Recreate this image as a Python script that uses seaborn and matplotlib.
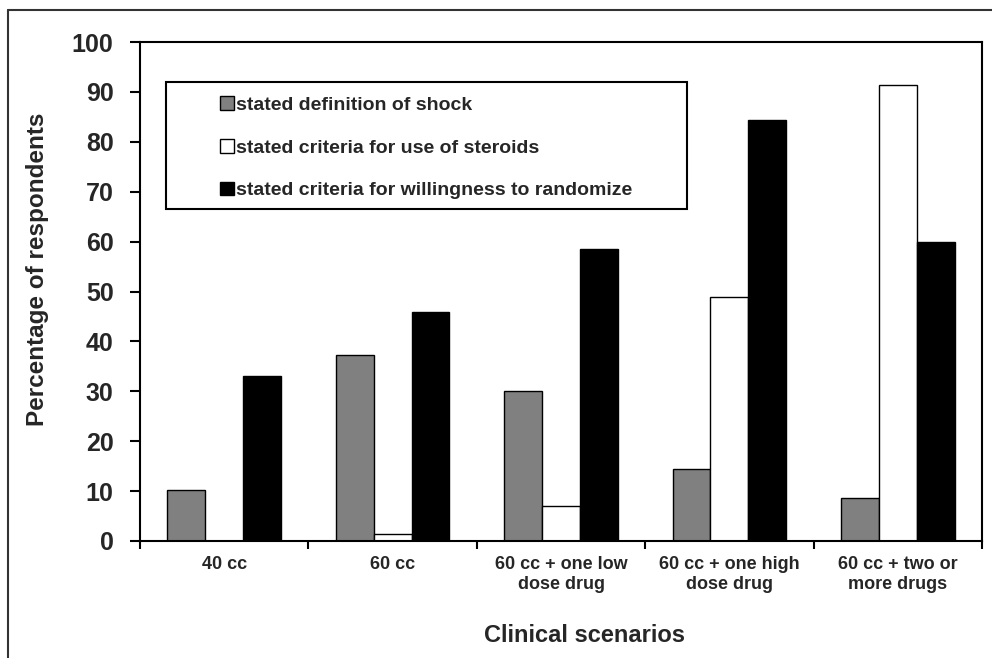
import numpy as np
import pandas as pd
import seaborn as sns
import matplotlib.pyplot as plt
from matplotlib.patches import Patch, Rectangle
from matplotlib.lines import Line2D

# =========================
# DATA
# =========================
scenarios = ["40 cc", "60 cc", "60 cc + one low\ndose drug",
             "60 cc + one high\ndose drug", "60 cc + two or\nmore drugs"]
series_names = ["stated definition of shock",
                "stated criteria for use of steroids",
                "stated criteria for willingness to randomize"]
shock = [10.2, 37.2, 30.1, 14.4, 8.7]
steroids = [0.0, 1.5, 7.1, 48.8, 91.4]
randomize = [33.0, 45.8, 58.6, 84.4, 60.0]
y_ticks = list(range(0, 101, 10))

colors = ["#808080", "#ffffff", "#000000"]

df = pd.DataFrame({
    "scenario": scenarios * 3,
    "series": [series_names[0]] * 5 + [series_names[1]] * 5 + [series_names[2]] * 5,
    "value": shock + steroids + randomize,
})

# =========================
# STYLE
# =========================
sns.set_theme(style="white")
plt.rcParams['font.family'] = ['Liberation Sans', 'DejaVu Sans']
plt.rcParams['font.weight'] = 'bold'

W, H = 992, 658
fig = plt.figure(figsize=(W / 100, H / 100), dpi=100)
ax = fig.add_axes([140 / W, 1 - 541 / H, (982 - 140) / W, (541 - 42) / H])

sns.barplot(data=df, x="scenario", y="value", hue="series", order=scenarios,
            hue_order=series_names, palette=colors, width=0.675, gap=0,
            edgecolor="black", linewidth=1.0, saturation=1, legend=False, ax=ax)

# =========================
# AXES
# =========================
ax.set_ylim(0, 100)
ax.set_xlim(-0.5, len(scenarios) - 0.5)
ax.set_yticks(y_ticks)
ax.set_yticklabels([str(t) for t in y_ticks], fontsize=18, fontweight='bold')
ax.set_xticks(range(len(scenarios)))
ax.set_xticklabels(scenarios, fontsize=13, fontweight='bold')
ax.set_xticks(np.arange(-0.5, len(scenarios), 1.0), minor=True)
ax.tick_params(axis='x', which='major', length=0, pad=11)
ax.tick_params(axis='x', which='minor', length=6, width=1.5, color='black',
               direction='out', bottom=True)
ax.tick_params(axis='y', which='major', length=7, width=1.5, color='black',
               direction='out', left=True, pad=12)
ax.set_xlabel("")
ax.set_ylabel("")
for sp in ax.spines.values():
    sp.set_visible(True)
    sp.set_color("black")
    sp.set_linewidth(1.5)

# =========================
# LEGEND
# =========================
box = Rectangle((0.0309, 0.665), 0.6187, 0.255, transform=ax.transAxes,
                facecolor="white", edgecolor="black", linewidth=1.5, zorder=5)
ax.add_patch(box)
handles = [Patch(facecolor=c, edgecolor="black", linewidth=1.0) for c in colors]
leg = ax.legend(handles, series_names, loc="center", bbox_to_anchor=(0.340, 0.788),
                frameon=False, fontsize=14, handlelength=0.7, handleheight=0.7,
                handletextpad=0.12, labelspacing=1.3, borderaxespad=0)
leg.set_zorder(6)
for t in leg.get_texts():
    t.set_fontweight('bold')

# =========================
# LABELS + OUTER FRAME
# =========================
fig.text(38 / W, 1 - 269 / H, "Percentage of respondents", rotation=90,
         ha="center", va="center", fontsize=17.5, fontweight='bold')
fig.text(584.5 / W, 1 - 636 / H, "Clinical scenarios",
         ha="center", va="center", fontsize=17, fontweight='bold')

fig.add_artist(Line2D([8 / W, 8 / W], [0, 1 - 10 / H], color="#333333", linewidth=1.5))
fig.add_artist(Line2D([8 / W, 1], [1 - 10 / H, 1 - 10 / H], color="#333333", linewidth=1.5))

fig.savefig("out.png", dpi=100)
